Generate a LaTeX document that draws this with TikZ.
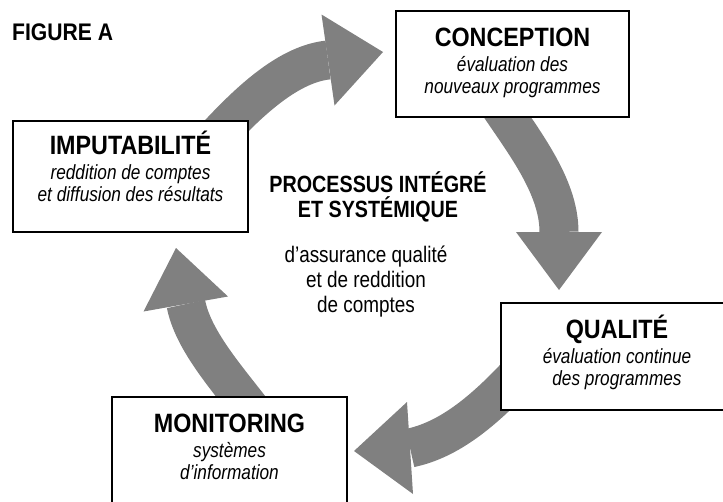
\documentclass[tikz,border=0pt]{standalone}
\usepackage{fontspec}
\setmainfont{Liberation Sans}[FakeStretch=0.88]
\newfontfamily\subfont{Liberation Sans}[FakeStretch=0.84]
\newfontfamily\ctrfont{Liberation Sans}[FakeStretch=0.84]
\usetikzlibrary{calc}
\pgfdeclarelayer{bg}
\pgfsetlayers{bg,main}
\definecolor{arrowgray}{RGB}{128,128,128}
\newcommand\boxtitle[1]{{\fontsize{26.5}{26.5}\selectfont\bfseries\rule{0pt}{26pt}#1}}
\newcommand\boxsub[1]{{\subfont\fontsize{20.5}{21.5}\selectfont\itshape #1}}
\tikzset{
  box/.style={draw=black, line width=1.6pt, fill=white, inner sep=0pt},
  boxtext/.style={align=center, inner sep=0pt, anchor=north, font=\fontsize{20.5}{21.5}\selectfont},
  shaft/.style={draw=arrowgray, line width=39pt, line cap=butt},
  head/.style={fill=arrowgray},
  ctitle/.style={align=center, inner sep=0pt, anchor=north, font=\ctrfont\fontsize{23.5}{25}\selectfont\bfseries},
  ctext/.style={align=center, inner sep=0pt, anchor=north, font=\ctrfont\fontsize{22.5}{25}\selectfont}
}
\begin{document}
\begin{tikzpicture}[x=1pt,y=-1pt]
\useasboundingbox (0,0) rectangle (723,501);
\clip (0,0) rectangle (723,501);

% boxes
\node[box, minimum width=233pt, minimum height=106pt] (con) at (512.5,64) {};
\node[box, minimum width=232pt, minimum height=107pt] (qua) at (617,356.5) {};
\node[box, minimum width=235pt, minimum height=111pt] (imp) at (130.5,176.5) {};
\node[box, minimum width=235pt, minimum height=106pt] (mon) at (229.5,450) {};

% box texts
\node[boxtext] (con-t) at ($(con.north)+(0,10)$)
  {\boxtitle{CONCEPTION}\\[4pt]\boxsub{évaluation des}\\\boxsub{nouveaux programmes}};
\node[boxtext] (qua-t) at ($(qua.north)+(0,10)$)
  {\boxtitle{QUALITÉ}\\[4pt]\boxsub{évaluation continue}\\\boxsub{des programmes}};
\node[boxtext] (imp-t) at ($(imp.north)+(0,8)$)
  {\boxtitle{IMPUTABILITÉ}\\[4pt]\boxsub{reddition de comptes}\\\boxsub{et diffusion des résultats}};
\node[boxtext] (mon-t) at ($(mon.north)+(0,10)$)
  {\boxtitle{MONITORING}\\[4pt]\boxsub{systèmes}\\\boxsub{d’information}};

% free texts
\node[anchor=base west, inner sep=0pt, font=\fontsize{24}{24}\selectfont\bfseries] (fig) at (12,40) {FIGURE A};
\node[ctitle] (proc) at (378,169) {\rule{0pt}{23pt}PROCESSUS INTÉGRÉ\\ET SYSTÉMIQUE};
\node[ctext] (desc) at (366,244) {\rule{0pt}{18pt}d’assurance qualité\\et de reddition\\de comptes};

% arrow end coordinates
\coordinate (b1) at (328,60);   \coordinate (t1) at (383,52);
\coordinate (b2) at (559,232);  \coordinate (t2) at (559,290);
\coordinate (b3) at (410,448);  \coordinate (t3) at (354,451);
\coordinate (b4) at (186,304);  \coordinate (t4) at (176,248);

\begin{pgfonlayer}{bg}
  % IMPUTABILITE -> CONCEPTION
  \draw[shaft] ($(imp.north east)+(-33,17)$) .. controls (252,98) and (290,64) .. (b1);
  \fill[head] (321.5,14.5) -- (t1) -- (334.5,105.5) -- cycle;
  % CONCEPTION -> QUALITE
  \draw[shaft] ($(con.south)+(-17.5,-19)$) .. controls (522,140) and (559,185) .. (b2);
  \fill[head] (516,232) -- (t2) -- (602,232) -- cycle;
  % QUALITE -> MONITORING
  \draw[shaft] ($(qua.west)+(19,16.5)$) .. controls (482,413) and (448,440) .. (b3);
  \fill[head] (407,402) -- (t3) -- (413,494) -- cycle;
  % MONITORING -> IMPUTABILITE
  \draw[shaft] ($(mon.north)+(23.5,16)$) .. controls (226,377) and (193,340) .. (b4);
  \fill[head] (228,296.5) -- (t4) -- (143.5,311.5) -- cycle;
\end{pgfonlayer}
\end{tikzpicture}
\end{document}
